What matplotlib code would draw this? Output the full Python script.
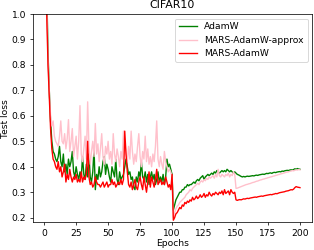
import numpy as np
import matplotlib
matplotlib.use("Agg")
import matplotlib.pyplot as plt

# test loss per epoch (1..200)
adamw = [
    1.6, 1.1, 0.85, 0.70, 0.58, 0.50, 0.46, 0.45, 0.43, 0.42,
    0.44, 0.48, 0.42, 0.40, 0.45, 0.38, 0.41, 0.37, 0.43, 0.40,
    0.42, 0.46, 0.38, 0.36, 0.40, 0.37, 0.35, 0.38, 0.36, 0.44,
    0.37, 0.35, 0.41, 0.36, 0.45, 0.36, 0.34, 0.38, 0.47, 0.31,
    0.37, 0.35, 0.40, 0.36, 0.38, 0.42, 0.44, 0.37, 0.41, 0.39,
    0.36, 0.34, 0.40, 0.38, 0.36, 0.43, 0.35, 0.33, 0.38, 0.35,
    0.36, 0.37, 0.40, 0.43, 0.40, 0.37, 0.38, 0.35, 0.36, 0.32,
    0.31, 0.36, 0.34, 0.38, 0.36, 0.42, 0.36, 0.35, 0.38, 0.34,
    0.37, 0.33, 0.36, 0.38, 0.35, 0.37, 0.33, 0.35, 0.38, 0.34,
    0.36, 0.34, 0.37, 0.33, 0.36, 0.43, 0.40, 0.41, 0.39, 0.37,
    0.23, 0.25, 0.27, 0.28, 0.29, 0.30, 0.30, 0.31, 0.31, 0.32,
    0.32, 0.33, 0.325, 0.33, 0.33, 0.335, 0.34, 0.335, 0.345, 0.35,
    0.345, 0.355, 0.36, 0.365, 0.35, 0.36, 0.365, 0.37, 0.365, 0.37,
    0.375, 0.37, 0.38, 0.375, 0.385, 0.38, 0.375, 0.38, 0.385, 0.38,
    0.385, 0.38, 0.39, 0.385, 0.38, 0.385, 0.38, 0.375, 0.38, 0.375,
    0.37, 0.368, 0.365, 0.362, 0.36, 0.362, 0.36, 0.362, 0.363, 0.362,
    0.363, 0.364, 0.365, 0.364, 0.366, 0.367, 0.366, 0.368, 0.369, 0.37,
    0.371, 0.37, 0.372, 0.374, 0.373, 0.375, 0.376, 0.374, 0.377, 0.378,
    0.377, 0.379, 0.38, 0.381, 0.38, 0.383, 0.382, 0.384, 0.385, 0.386,
    0.385, 0.387, 0.388, 0.387, 0.389, 0.392, 0.39, 0.393, 0.391, 0.39,
]

mars_approx = [
    1.6, 1.05, 0.82, 0.70, 0.60, 0.56, 0.58, 0.52, 0.50, 0.49,
    0.48, 0.52, 0.58, 0.50, 0.49, 0.53, 0.47, 0.51, 0.585, 0.46,
    0.50, 0.55, 0.44, 0.48, 0.52, 0.43, 0.50, 0.64, 0.45, 0.42,
    0.47, 0.52, 0.43, 0.655, 0.48, 0.41, 0.46, 0.50, 0.44, 0.57,
    0.45, 0.49, 0.42, 0.47, 0.53, 0.44, 0.41, 0.48, 0.45, 0.50,
    0.43, 0.46, 0.41, 0.53, 0.45, 0.42, 0.47, 0.44, 0.40, 0.46,
    0.43, 0.54, 0.50, 0.45, 0.42, 0.48, 0.43, 0.54, 0.46, 0.41,
    0.45, 0.42, 0.48, 0.53, 0.44, 0.40, 0.46, 0.43, 0.52, 0.42,
    0.47, 0.41, 0.44, 0.40, 0.45, 0.42, 0.48, 0.58, 0.43, 0.40,
    0.44, 0.41, 0.39, 0.46, 0.42, 0.40, 0.38, 0.39, 0.38, 0.36,
    0.20, 0.22, 0.235, 0.245, 0.25, 0.26, 0.265, 0.27, 0.275, 0.28,
    0.29, 0.295, 0.30, 0.31, 0.305, 0.315, 0.32, 0.325, 0.33, 0.335,
    0.33, 0.34, 0.345, 0.34, 0.35, 0.345, 0.355, 0.35, 0.36, 0.355,
    0.36, 0.365, 0.355, 0.37, 0.36, 0.39, 0.365, 0.36, 0.37, 0.365,
    0.36, 0.37, 0.365, 0.375, 0.36, 0.37, 0.365, 0.38, 0.37, 0.315,
    0.316, 0.318, 0.32, 0.322, 0.324, 0.326, 0.328, 0.33, 0.331, 0.333,
    0.334, 0.336, 0.338, 0.339, 0.341, 0.343, 0.344, 0.346, 0.348, 0.349,
    0.351, 0.352, 0.354, 0.355, 0.357, 0.358, 0.36, 0.361, 0.363, 0.364,
    0.366, 0.367, 0.369, 0.37, 0.372, 0.373, 0.375, 0.376, 0.378, 0.379,
    0.38, 0.382, 0.383, 0.385, 0.384, 0.386, 0.388, 0.387, 0.389, 0.388,
]

mars = [
    1.6, 1.0, 0.80, 0.68, 0.55, 0.47, 0.43, 0.42, 0.40, 0.39,
    0.42, 0.38, 0.40, 0.36, 0.38, 0.41, 0.34, 0.37, 0.35, 0.39,
    0.36, 0.34, 0.36, 0.35, 0.37, 0.34, 0.35, 0.34, 0.38, 0.34,
    0.36, 0.35, 0.37, 0.50, 0.36, 0.33, 0.34, 0.32, 0.33, 0.36,
    0.34, 0.33, 0.33, 0.32, 0.33, 0.34, 0.32, 0.33, 0.34, 0.32,
    0.33, 0.33, 0.35, 0.33, 0.34, 0.32, 0.33, 0.34, 0.33, 0.35,
    0.33, 0.35, 0.54, 0.45, 0.38, 0.33, 0.32, 0.34, 0.31, 0.33,
    0.35, 0.32, 0.31, 0.34, 0.36, 0.33, 0.31, 0.36, 0.33, 0.30,
    0.34, 0.38, 0.32, 0.36, 0.34, 0.32, 0.35, 0.39, 0.33, 0.34,
    0.35, 0.33, 0.34, 0.33, 0.36, 0.34, 0.32, 0.33, 0.31, 0.37,
    0.19, 0.20, 0.215, 0.22, 0.23, 0.24, 0.235, 0.25, 0.245, 0.26,
    0.255, 0.265, 0.26, 0.27, 0.265, 0.28, 0.27, 0.275, 0.285, 0.275,
    0.28, 0.29, 0.28, 0.285, 0.295, 0.28, 0.29, 0.285, 0.30, 0.29,
    0.285, 0.295, 0.29, 0.30, 0.295, 0.29, 0.30, 0.295, 0.305, 0.29,
    0.31, 0.295, 0.30, 0.305, 0.29, 0.31, 0.30, 0.295, 0.30, 0.27,
    0.268, 0.27, 0.271, 0.27, 0.272, 0.274, 0.273, 0.275, 0.276, 0.275,
    0.277, 0.278, 0.279, 0.28, 0.281, 0.28, 0.282, 0.283, 0.284, 0.285,
    0.284, 0.286, 0.287, 0.288, 0.289, 0.29, 0.291, 0.29, 0.292, 0.293,
    0.295, 0.294, 0.296, 0.298, 0.299, 0.30, 0.301, 0.302, 0.304, 0.305,
    0.306, 0.308, 0.31, 0.309, 0.312, 0.318, 0.322, 0.32, 0.319, 0.318,
]

epochs = np.arange(1, len(adamw) + 1)

# the reference looks like a default-styled figure rendered at low dpi
fig = plt.figure(figsize=(314 / 66, 250 / 66), dpi=66)
ax = fig.add_axes([0.104, 0.111, 0.89, 0.833])

ax.plot(epochs, adamw, color='green', label='AdamW')
ax.plot(epochs, mars_approx, color='pink', label='MARS-AdamW-approx')
ax.plot(epochs, mars, color='red', label='MARS-AdamW')

ax.set_xlim(-9, 209.5)
ax.set_ylim(0.182, 1.0)
ax.set_xticks([0, 25, 50, 75, 100, 125, 150, 175, 200])
ax.set_title('CIFAR10')
ax.set_xlabel('Epochs', labelpad=2)
ax.set_ylabel('Test loss', labelpad=2)
ax.legend(loc='upper right')

fig.savefig('out.png', dpi=66)
